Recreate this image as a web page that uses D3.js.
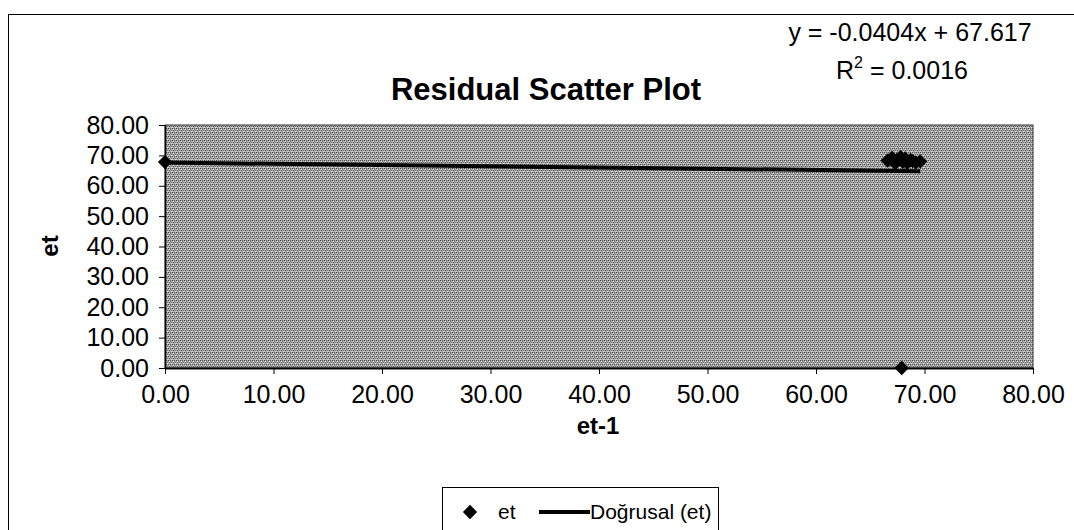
<html>
<head>
<meta charset="utf-8" />
<script src="https://cdn.jsdelivr.net/npm/d3@7"></script>
<style>
body { margin: 0; background: #fff; }
text { font-family: "Liberation Sans", Arial, sans-serif; fill: #000; }
</style>
</head>
<body>
<svg id="chart" width="1074" height="530"></svg>
<script>
// data
var prevResid = [0.0, 66.6, 67.0, 67.3, 67.5, 67.8, 68.0, 68.2, 68.4, 68.7, 68.9, 69.2, 69.6, 67.9];
var resid     = [67.8, 68.3, 69.2, 67.4, 68.6, 69.4, 67.9, 69.0, 67.5, 68.5, 68.1, 67.7, 68.0, 0.0];
var xTicks = [0, 10, 20, 30, 40, 50, 60, 70, 80];
var yTicks = [0, 10, 20, 30, 40, 50, 60, 70, 80];
var slope = -0.0404, intercept = 67.617;
var eqText = "y = -0.0404x + 67.617";
var r2Text = "0.0016";

var svg = d3.select("#chart");
var margin = {left: 165, right: 1033, top: 125, bottom: 368};
var font = "Liberation Sans, Arial, sans-serif";

// outer frame
svg.append("rect")
  .attr("x", 8.5).attr("y", 14.5)
  .attr("width", 1080).attr("height", 530)
  .attr("fill", "none").attr("stroke", "#000").attr("stroke-width", 1);

// textured plot background
var defs = svg.append("defs");
var pat = defs.append("pattern")
  .attr("id", "tex").attr("patternUnits", "userSpaceOnUse")
  .attr("width", 4).attr("height", 4);
pat.append("rect").attr("width", 4).attr("height", 4).attr("fill", "#a8a8a8");
[[0,0,"#444"],[2,0,"#5e5e5e"],[1,2,"#505050"],[3,2,"#6e6e6e"],
 [1,1,"#e4e4e4"],[3,3,"#dedede"],[0,3,"#d0d0d0"],[2,1,"#8a8a8a"]].forEach(function(p) {
  pat.append("rect").attr("x", p[0]).attr("y", p[1]).attr("width", 1).attr("height", 1).attr("fill", p[2]);
});

var x = d3.scaleLinear().domain([0, 80]).range([margin.left, margin.right]);
var y = d3.scaleLinear().domain([0, 80]).range([margin.bottom, margin.top]);

svg.append("rect")
  .attr("x", margin.left).attr("y", margin.top)
  .attr("width", margin.right - margin.left)
  .attr("height", margin.bottom - margin.top)
  .attr("fill", "url(#tex)")
  .attr("stroke", "#333").attr("stroke-width", 1);

// axes
var xAxis = svg.append("g")
  .attr("transform", "translate(0," + margin.bottom + ")")
  .call(d3.axisBottom(x).tickValues(xTicks).tickSize(6).tickSizeOuter(0)
    .tickFormat(d3.format(".2f")));
xAxis.select(".domain").attr("stroke", "#000").attr("stroke-width", 2);
xAxis.selectAll("text").attr("font-size", 25).attr("y", 11).attr("dy", "0.95em")
  .style("font-family", font);

var yAxis = svg.append("g")
  .attr("transform", "translate(" + margin.left + ",0)")
  .call(d3.axisLeft(y).tickValues(yTicks).tickSize(6).tickSizeOuter(0)
    .tickFormat(d3.format(".2f")));
yAxis.select(".domain").attr("stroke", "#000").attr("stroke-width", 1.5);
yAxis.selectAll("text").attr("font-size", 25).attr("x", -16)
  .style("font-family", font);

// trend line
var xMax = d3.max(prevResid);
var trend = [0, xMax].map(function(v) { return [v, slope * v + intercept]; });
svg.append("path")
  .datum(trend)
  .attr("fill", "none").attr("stroke", "#000").attr("stroke-width", 4)
  .attr("d", d3.line().x(function(d) { return x(d[0]); }).y(function(d) { return y(d[1]); }));

// points
var diamond = d3.symbol().type(d3.symbolDiamond2).size(130);
svg.selectAll(".pt")
  .data(prevResid)
  .enter().append("path")
  .attr("class", "pt")
  .attr("d", diamond)
  .attr("transform", function(d, i) { return "translate(" + x(d) + "," + y(resid[i]) + ")"; })
  .attr("fill", "#000");

// titles
svg.append("text")
  .attr("x", 546).attr("y", 100)
  .attr("text-anchor", "middle")
  .attr("font-size", 31).attr("font-weight", "bold")
  .text("Residual Scatter Plot");

svg.append("text")
  .attr("x", 910).attr("y", 41)
  .attr("text-anchor", "middle")
  .attr("font-size", 25)
  .text(eqText);

var r2 = svg.append("text")
  .attr("x", 902).attr("y", 79)
  .attr("text-anchor", "middle")
  .attr("font-size", 25);
r2.append("tspan").text("R");
r2.append("tspan").attr("font-size", 16).attr("dy", -11).text("2");
r2.append("tspan").attr("dy", 11).text(" = " + r2Text);

svg.append("text")
  .attr("x", 598).attr("y", 434)
  .attr("text-anchor", "middle")
  .attr("font-size", 24).attr("font-weight", "bold")
  .text("et-1");

svg.append("text")
  .attr("transform", "translate(58,246) rotate(-90)")
  .attr("text-anchor", "middle")
  .attr("font-size", 24).attr("font-weight", "bold")
  .text("et");

// legend
var leg = svg.append("g").attr("transform", "translate(442,487)");
leg.append("rect")
  .attr("x", 0.5).attr("y", 0.5).attr("width", 276).attr("height", 60)
  .attr("fill", "#fff").attr("stroke", "#000").attr("stroke-width", 1);
leg.append("path").attr("d", diamond).attr("transform", "translate(28,25)").attr("fill", "#000");
leg.append("text").attr("x", 56).attr("y", 32).attr("font-size", 21).text("et");
leg.append("line").attr("x1", 97).attr("x2", 148).attr("y1", 25).attr("y2", 25)
  .attr("stroke", "#000").attr("stroke-width", 4);
leg.append("text").attr("x", 148).attr("y", 32).attr("font-size", 21).text("Doğrusal (et)");
</script>
</body>
</html>
